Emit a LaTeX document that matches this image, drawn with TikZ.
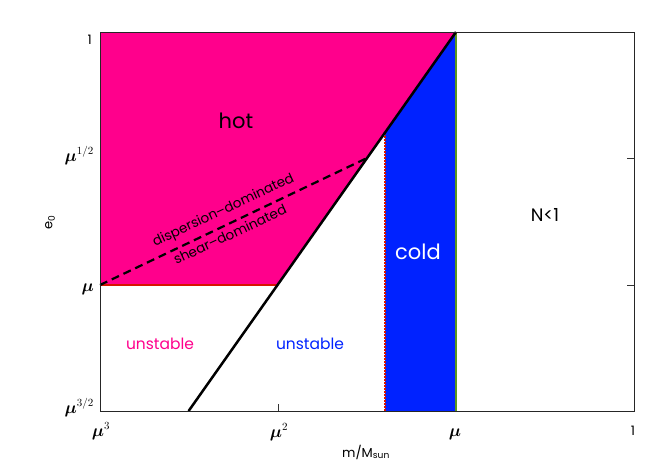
\documentclass[tikz,border=0pt]{standalone}
\usepackage{amsmath}
\usepackage{fontspec}
\setmainfont{Poppins}
\definecolor{hotpink}{RGB}{255,0,140}
\definecolor{coldblue}{RGB}{0,34,255}
\definecolor{redline}{RGB}{215,20,0}
\definecolor{greenline}{RGB}{90,150,30}
\begin{document}
\begin{tikzpicture}[x=1pt,y=-1pt,
  lab/.style={inner sep=0pt},
  mathlab/.style={inner sep=0pt,font=\fontsize{16}{18}\selectfont},
  region/.style={inner sep=0pt,font=\fontsize{21}{24}\selectfont},
  small/.style={inner sep=0pt,font=\fontsize{15.5}{17}\selectfont},
  nlab/.style={inner sep=0pt,font=\fontsize{18}{20}\selectfont},
  diag/.style={inner sep=0pt,font=\fontsize{13.5}{15}\selectfont},
  axlab/.style={inner sep=0pt,font=\fontsize{13}{15}\selectfont},
  tick/.style={line width=0.8pt,black!80}]
\useasboundingbox (0,0) rectangle (664,475);
% corners
\coordinate (BL) at (100,411);
\coordinate (TR) at (634,32);
\coordinate (TL) at (100,32);
\coordinate (BR) at (634,411);
\coordinate (Dtop) at (456,32);
\coordinate (Dmid) at (278,285);
\coordinate (Dbot) at (188.6,411);
\coordinate (Cx) at (385,133.4);
\coordinate (Cb) at (385,411);
\coordinate (Gb) at (456,411);
\coordinate (Lmu) at (100,285);
\coordinate (Dend) at (366,158.5);
% fills
\fill[hotpink] (TL) -- (Dtop) -- (Dmid) -- (Lmu) -- cycle;
\fill[coldblue] (Cx) -- (Dtop) -- (Gb) -- (Cb) -- cycle;
% ticks
\draw[tick] (278,411) -- (278,404);
\draw[tick] (634,158) -- (627,158);
\draw[tick] (634,285) -- (627,285);
% lines
\draw[greenline,line width=1.2pt] (Dtop) -- (Gb);
\draw[redline,line width=2pt,dash pattern=on 1.3pt off 1.7pt] (Cx) -- (Cb);
\draw[redline,line width=2.6pt] (Lmu) -- (Dmid);
\draw[black,line width=2.5pt] (Dbot) -- (Dtop);
\draw[black,line width=2.2pt,dash pattern=on 8pt off 5pt] (Lmu) -- (Dend);
% frame
\draw[black!85,line width=1pt] (BL) rectangle (TR);
% region labels
\node[region] (hot) at (236,121) {hot};
\node[region,text=white] (cold) at (418,252) {cold};
\node[nlab] (N) at (545,215) {N<1};
\node[small,text=hotpink] (un1) at (160,344) {unstable};
\node[small,text=coldblue] (un2) at (310,344) {unstable};
\node[diag,rotate=25,anchor=base] (disp) at (225,214) {dispersion--dominated};
\node[diag,rotate=25,anchor=base] (shear) at (232,239) {shear--dominated};
% y tick labels
\node[axlab,anchor=base east] (y1) at (92,44) {1};
\node[mathlab,anchor=base east] (yhalf) at (94,161) {$\boldsymbol{\mu}^{1/2}$};
\node[mathlab,anchor=base east] (ymu) at (94,291) {$\boldsymbol{\mu}$};
\node[mathlab,anchor=base east] (y32) at (94,413) {$\boldsymbol{\mu}^{3/2}$};
% x tick labels
\node[mathlab,anchor=base] (x3) at (101,436) {$\boldsymbol{\mu}^{3}$};
\node[mathlab,anchor=base] (x2) at (279,437) {$\boldsymbol{\mu}^{2}$};
\node[mathlab,anchor=base] (x1) at (455,436) {$\boldsymbol{\mu}$};
\node[axlab,anchor=base] (x0) at (633,435) {1};
% axis titles
\node[axlab,rotate=90] (ey) at (50,222) {e\textsubscript{0}};
\node[axlab] (mx) at (366,452) {m/M\textsubscript{sun}};
\end{tikzpicture}
\end{document}
